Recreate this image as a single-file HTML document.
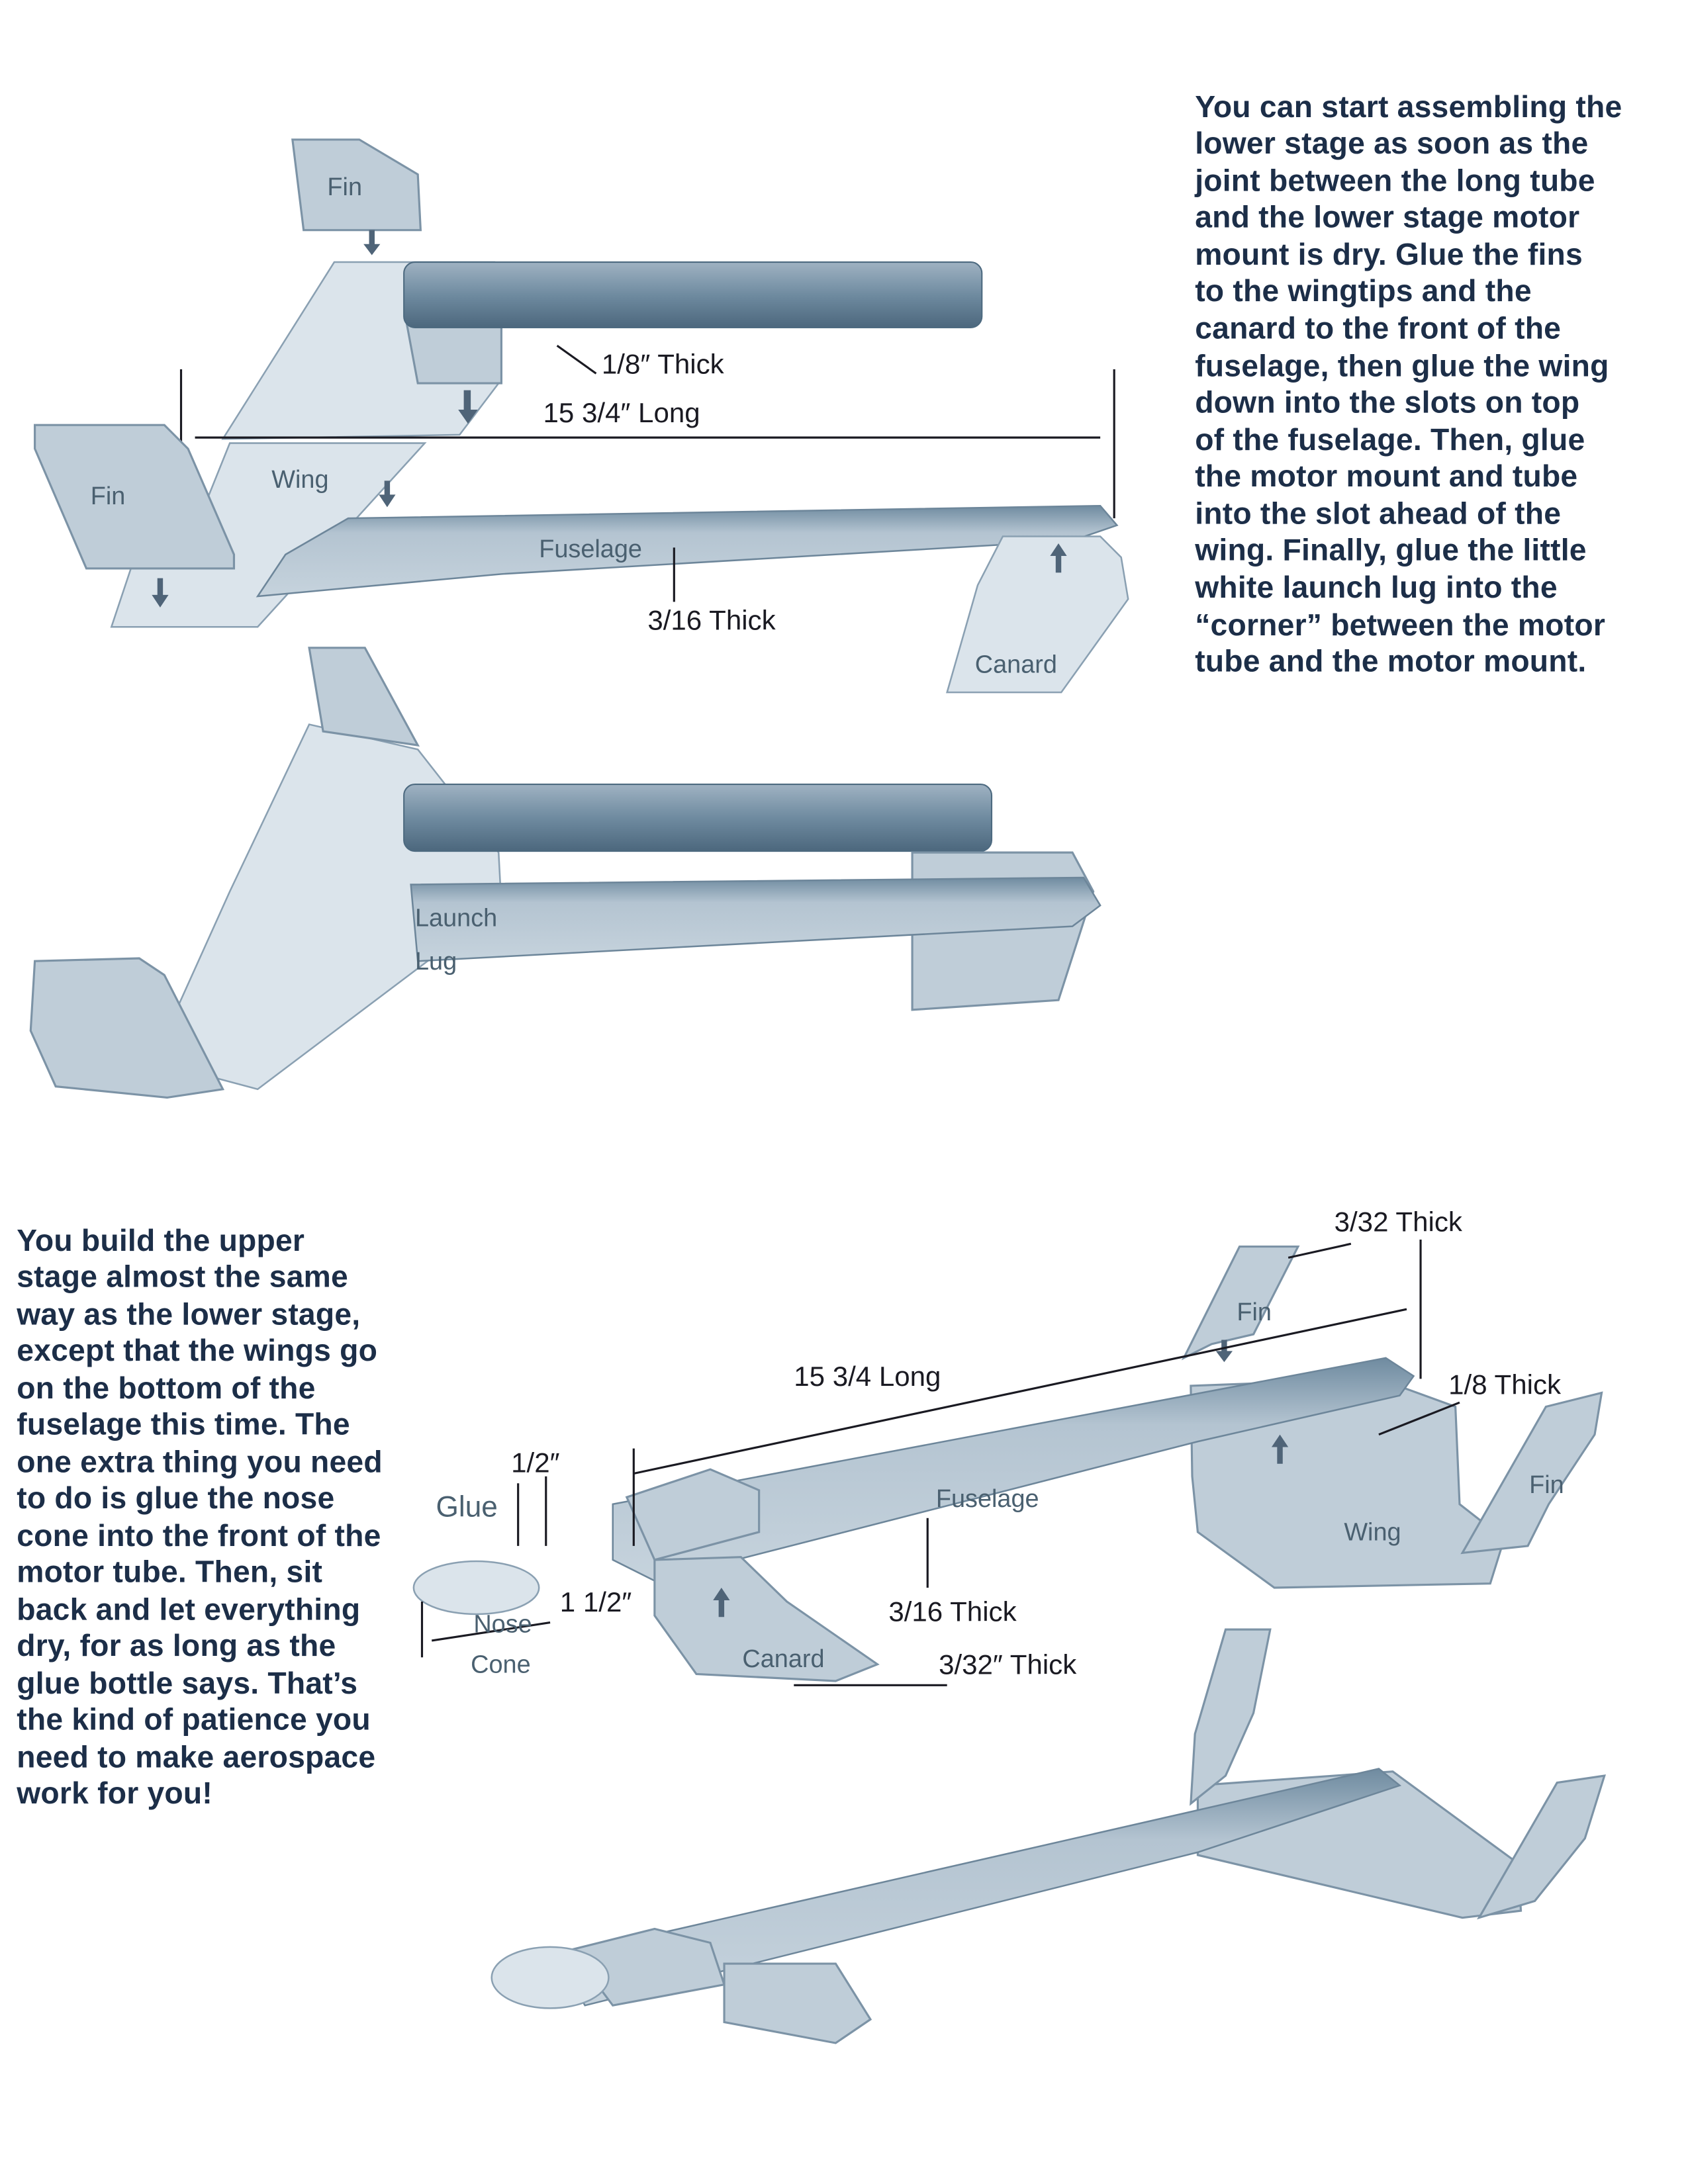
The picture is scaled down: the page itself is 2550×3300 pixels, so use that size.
<!DOCTYPE html>
<html><head><meta charset="utf-8"><style>
html,body{margin:0;padding:0;background:#fff}
svg{display:block}
.p{font-family:"Liberation Sans",sans-serif;font-size:22px;fill:#1c2e48;font-weight:bold;letter-spacing:0.1px}
.l{font-family:"Liberation Sans",sans-serif;font-size:20px;fill:#1a1a22}
.s{font-family:"Liberation Sans",sans-serif;font-size:18px;fill:#4a6070}
.sh{fill:#bfcdd8;stroke:#7c93a6;stroke-width:1.5}
.lt{fill:#dbe4eb;stroke:#8aa0b2;stroke-width:1.2}
.tb{fill:url(#tg);stroke:#4d6a80;stroke-width:1}
.ln{stroke:#1a1a22;stroke-width:1.5;fill:none}
.ar{fill:#4f6478}
</style></head><body>
<svg width="2550" height="3300" viewBox="0 0 1212 1568" xmlns="http://www.w3.org/2000/svg">
<defs><linearGradient id="tg" x1="0" y1="0" x2="0" y2="1"><stop offset="0" stop-color="#9fb2c2"/><stop offset="0.5" stop-color="#6f8ba0"/><stop offset="1" stop-color="#4c677d"/></linearGradient>
<linearGradient id="fg" x1="0" y1="0" x2="0" y2="1"><stop offset="0" stop-color="#6f8ba0"/><stop offset="0.3" stop-color="#b4c4d1"/><stop offset="1" stop-color="#c6d3dd"/></linearGradient></defs>

<!-- Top diagram -->
<polygon class="sh" points="210,100 258,100 300,125 302,165 218,165"/>
<text class="s" x="235" y="140">Fin</text>
<path class="ar" d="M265,165 h4 v10 h4 l-6,8 l-6,-8 h4z"/>
<polygon class="lt" points="240,188 355,188 358,275 330,312 160,315"/>
<polygon class="sh" points="292,232 360,232 360,275 300,275"/>
<rect class="tb" x="290" y="188" width="415" height="47" rx="8"/>
<path class="ar" d="M333,280 h5 v14 h5 l-7,10 l-7,-10 h4z"/>
<line class="ln" x1="400" y1="248" x2="428" y2="268"/>
<text class="l" x="432" y="268">1/8″ Thick</text>
<text class="l" x="390" y="303">15 3/4″ Long</text>
<line class="ln" x1="140" y1="314" x2="790" y2="314"/>
<line class="ln" x1="130" y1="265" x2="130" y2="405"/>
<line class="ln" x1="800" y1="265" x2="800" y2="372"/>
<polygon class="lt" points="165,318 305,318 185,450 80,450 95,405 130,405"/>
<text class="s" x="195" y="350">Wing</text>
<polygon class="sh" points="25,305 118,305 135,322 168,398 168,408 62,408 25,322"/>
<text class="s" x="65" y="362">Fin</text>
<polygon fill="url(#fg)" stroke="#6d869a" stroke-width="1.2" points="250,372 790,363 802,377 770,388 360,412 185,428 205,398"/>
<path class="ar" d="M276,345 h4 v10 h4 l-6,9 l-6,-9 h4z"/>
<path class="ar" d="M113,415 h4 v12 h4 l-6,9 l-6,-9 h4z"/>
<polygon class="lt" points="720,385 790,385 805,400 810,430 762,497 680,497 702,420"/>
<path class="ar" d="M760,390 l6,9 h-4 v12 h-4 v-12 h-4z"/>
<text class="s" x="700" y="483">Canard</text>
<text class="s" x="387" y="400">Fuselage</text>
<line class="ln" x1="484" y1="393" x2="484" y2="432"/>
<text class="l" x="465" y="452">3/16 Thick</text>

<!-- Second diagram -->
<polygon class="lt" points="222,520 300,538 358,612 360,650 185,782 110,762 165,640"/>
<polygon class="sh" points="222,465 262,465 300,535 232,525"/>
<rect class="tb" x="290" y="563" width="422" height="48" rx="8"/>
<polygon class="sh" points="655,612 770,612 785,640 760,718 655,725"/>
<polygon fill="url(#fg)" stroke="#6d869a" stroke-width="1.2" points="295,635 778,630 790,650 770,665 300,690"/>
<polygon class="sh" points="25,690 100,688 118,700 160,782 120,788 40,780 22,740"/>
<text class="s" x="298" y="665">Launch</text>
<text class="s" x="298" y="696">Lug</text>

<!-- Bottom diagram 1 -->
<polygon class="sh" points="890,895 932,895 900,958 870,965 850,975"/>
<text class="s" x="888" y="948">Fin</text>
<path class="ar" d="M877,962 h4 v8 h4 l-6,8 l-6,-8 h4z"/>
<polygon class="sh" points="855,995 990,990 1045,1010 1048,1080 1080,1105 1070,1137 915,1140 860,1100 856,1060"/>
<polygon fill="url(#fg)" stroke="#6d869a" stroke-width="1.2" points="440,1080 995,975 1015,988 1005,1002 860,1035 470,1135 440,1120"/>
<polygon class="sh" points="450,1075 510,1055 545,1070 545,1100 470,1120"/>
<polygon class="sh" points="1110,1010 1150,1000 1145,1030 1112,1080 1097,1110 1050,1115"/>
<polygon class="sh" points="470,1120 532,1118 565,1150 630,1195 600,1207 500,1202 470,1160"/>
<ellipse class="lt" cx="342" cy="1140" rx="45" ry="19"/>
<path class="ar" d="M919,1030 l6,9 h-4 v12 h-4 v-12 h-4z"/>
<path class="ar" d="M518,1140 l6,9 h-4 v12 h-4 v-12 h-4z"/>
<text class="l" x="958" y="884">3/32 Thick</text>
<line class="ln" x1="970" y1="893" x2="925" y2="903"/>
<line class="ln" x1="1020" y1="890" x2="1020" y2="990"/>
<text class="l" x="1040" y="1001">1/8 Thick</text>
<line class="ln" x1="1048" y1="1007" x2="990" y2="1030"/>
<text class="l" x="570" y="995">15 3/4 Long</text>
<line class="ln" x1="455" y1="1058" x2="1010" y2="940"/>
<line class="ln" x1="455" y1="1040" x2="455" y2="1110"/>
<text class="s" x="672" y="1082">Fuselage</text>
<line class="ln" x1="666" y1="1090" x2="666" y2="1140"/>
<text class="l" x="638" y="1164">3/16 Thick</text>
<text class="s" x="965" y="1106">Wing</text>
<text class="s" x="1098" y="1072">Fin</text>
<text class="l" x="367" y="1057">1/2″</text>
<line class="ln" x1="372" y1="1065" x2="372" y2="1110"/>
<line class="ln" x1="392" y1="1060" x2="392" y2="1110"/>
<text class="s" x="313" y="1089" style="font-size:21px">Glue</text>
<text class="l" x="402" y="1157">1 1/2″</text>
<line class="ln" x1="303" y1="1150" x2="303" y2="1190"/>
<line class="ln" x1="310" y1="1178" x2="395" y2="1165"/>
<text class="s" x="340" y="1172">Nose</text>
<text class="s" x="338" y="1201">Cone</text>
<text class="s" x="533" y="1197">Canard</text>
<text class="l" x="674" y="1202">3/32″ Thick</text>
<line class="ln" x1="570" y1="1210" x2="680" y2="1210"/>

<!-- Bottom diagram 2 -->
<polygon class="sh" points="860,1282 1000,1272 1090,1338 1092,1372 1050,1377 860,1332"/>
<polygon class="sh" points="880,1170 912,1170 900,1230 880,1275 855,1295 858,1245"/>
<polygon class="sh" points="1118,1280 1152,1275 1138,1320 1102,1365 1062,1377"/>
<polygon fill="url(#fg)" stroke="#6d869a" stroke-width="1.2" points="400,1405 990,1270 1005,1282 860,1330 420,1440"/>
<polygon class="sh" points="410,1400 470,1385 510,1395 520,1425 440,1440"/>
<polygon class="sh" points="520,1410 600,1410 625,1450 600,1467 520,1452"/>
<ellipse class="lt" cx="395" cy="1420" rx="42" ry="22"/>

<!-- Text -->
<g class="p">
<text x="858" y="84">You can start assembling the</text>
<text x="858" y="110">lower stage as soon as the</text>
<text x="858" y="137">joint between the long tube</text>
<text x="858" y="163">and the lower stage motor</text>
<text x="858" y="190">mount is dry.  Glue the fins</text>
<text x="858" y="216">to the wingtips and the</text>
<text x="858" y="243">canard to the front of the</text>
<text x="858" y="270">fuselage, then glue the wing</text>
<text x="858" y="296">down into the slots on top</text>
<text x="858" y="323">of the fuselage.  Then, glue</text>
<text x="858" y="349">the motor mount and tube</text>
<text x="858" y="376">into the slot ahead of the</text>
<text x="858" y="402">wing.  Finally, glue the little</text>
<text x="858" y="429">white launch lug into the</text>
<text x="858" y="456">“corner” between the motor</text>
<text x="858" y="482">tube and the motor mount.</text>
<text x="12" y="898">You build the upper</text>
<text x="12" y="924">stage almost the same</text>
<text x="12" y="951">way as the lower stage,</text>
<text x="12" y="977">except that the wings go</text>
<text x="12" y="1004">on the bottom of the</text>
<text x="12" y="1030">fuselage this time.  The</text>
<text x="12" y="1057">one extra thing you need</text>
<text x="12" y="1083">to do is glue the nose</text>
<text x="12" y="1110">cone into the front of the</text>
<text x="12" y="1136">motor tube. Then, sit</text>
<text x="12" y="1163">back and let everything</text>
<text x="12" y="1189">dry, for as long as the</text>
<text x="12" y="1216">glue bottle says.  That’s</text>
<text x="12" y="1242">the kind of patience you</text>
<text x="12" y="1269">need to make aerospace</text>
<text x="12" y="1295">work for you!</text>
</g>
</svg>
</body></html>
